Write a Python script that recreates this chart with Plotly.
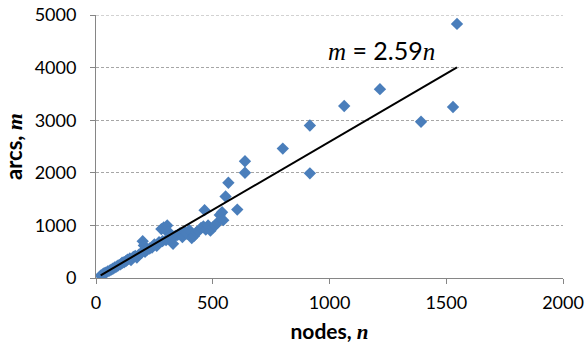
import plotly.graph_objects as go

nodes = [20, 28, 35, 42, 50, 58, 65, 72, 80, 88, 95, 105, 112, 120, 128, 135, 145, 150,
         160, 168, 175, 185, 195, 200, 205, 210, 220, 230, 240, 250, 260, 270, 280, 290,
         300, 305, 310, 285, 300, 320, 330, 340, 350, 360, 370, 380, 390, 400, 410, 420,
         430, 440, 450, 460, 465, 470, 480, 490, 500, 510, 520, 530, 540, 545, 555, 567,
         605, 638, 638, 800, 916, 916, 1063, 1216, 1392, 1529, 1546]
arcs = [45, 70, 90, 100, 125, 140, 160, 175, 200, 215, 240, 260, 290, 300, 320, 350, 370, 340,
        400, 420, 390, 450, 480, 700, 620, 500, 540, 560, 580, 640, 610, 680, 930, 960,
        900, 1000, 880, 700, 720, 760, 650, 800, 820, 850, 780, 880, 840, 910, 760, 800,
        870, 900, 950, 980, 1290, 920, 1000, 900, 960, 1000, 1050, 1200, 1250, 1100, 1550, 1810,
        1300, 2000, 2220, 2460, 2900, 1990, 3270, 3590, 2970, 3250, 4830]
slope = 2.59
x_ticks = [0, 500, 1000, 1500, 2000]
y_ticks = [0, 1000, 2000, 3000, 4000, 5000]

line_x = [min(nodes), max(nodes)]
line_y = [slope * v for v in line_x]

fig = go.Figure()
fig.add_trace(go.Scatter(x=nodes, y=arcs, mode="markers",
                         marker=dict(symbol="diamond", size=9.5, color="#4A7EBB",
                                     line=dict(width=0)),
                         showlegend=False))
fig.add_trace(go.Scatter(x=line_x, y=line_y, mode="lines",
                         line=dict(color="black", width=2), showlegend=False))

# top gridline (plotly omits the gridline at the range edge)
fig.add_shape(type="line", xref="paper", yref="y", x0=0, x1=1,
              y0=max(y_ticks), y1=max(y_ticks), layer="below",
              line=dict(color="#A6A6A6", width=1, dash="3px,2px"))

serif = "Liberation Serif"
fig.add_annotation(x=1224, y=4000, xref="x", yref="y", yanchor="bottom", yshift=1,
                   showarrow=False,
                   text=f'<span style="font-family:{serif}"><i>m</i></span> = 2.59<span style="font-family:{serif}"><i>n</i></span>',
                   font=dict(family="Lato", size=25, color="black"))

fig.update_layout(
    width=585, height=350,
    margin=dict(l=96, r=22, t=15, b=72),
    paper_bgcolor="white", plot_bgcolor="white",
    font=dict(family="Lato", size=18, color="black"),
    xaxis=dict(range=[0, 2000], tickvals=x_ticks, showgrid=False, zeroline=False,
               showline=True, linecolor="#868686", linewidth=1, automargin=False,
               ticks="outside", ticklen=5, tickcolor="#868686", ticklabelstandoff=3,
               title=dict(text=f'<b>nodes, <span style="font-family:{serif}"><i>n</i></span></b>',
                          font=dict(size=21), standoff=12)),
    yaxis=dict(range=[0, 5000], tickvals=y_ticks, showgrid=True,
               gridcolor="#A6A6A6", griddash="3px,2px", gridwidth=1, zeroline=False,
               showline=True, linecolor="#868686", linewidth=1, automargin=False,
               ticks="outside", ticklen=5, tickcolor="#868686", ticklabelstandoff=10,
               title=dict(text=f'<b>arcs, <span style="font-family:{serif}"><i>m</i></span></b>',
                          font=dict(size=22), standoff=14)),
)
fig.write_html("out.html", config={"displayModeBar": False},
               post_script="document.body.style.margin='0';")
